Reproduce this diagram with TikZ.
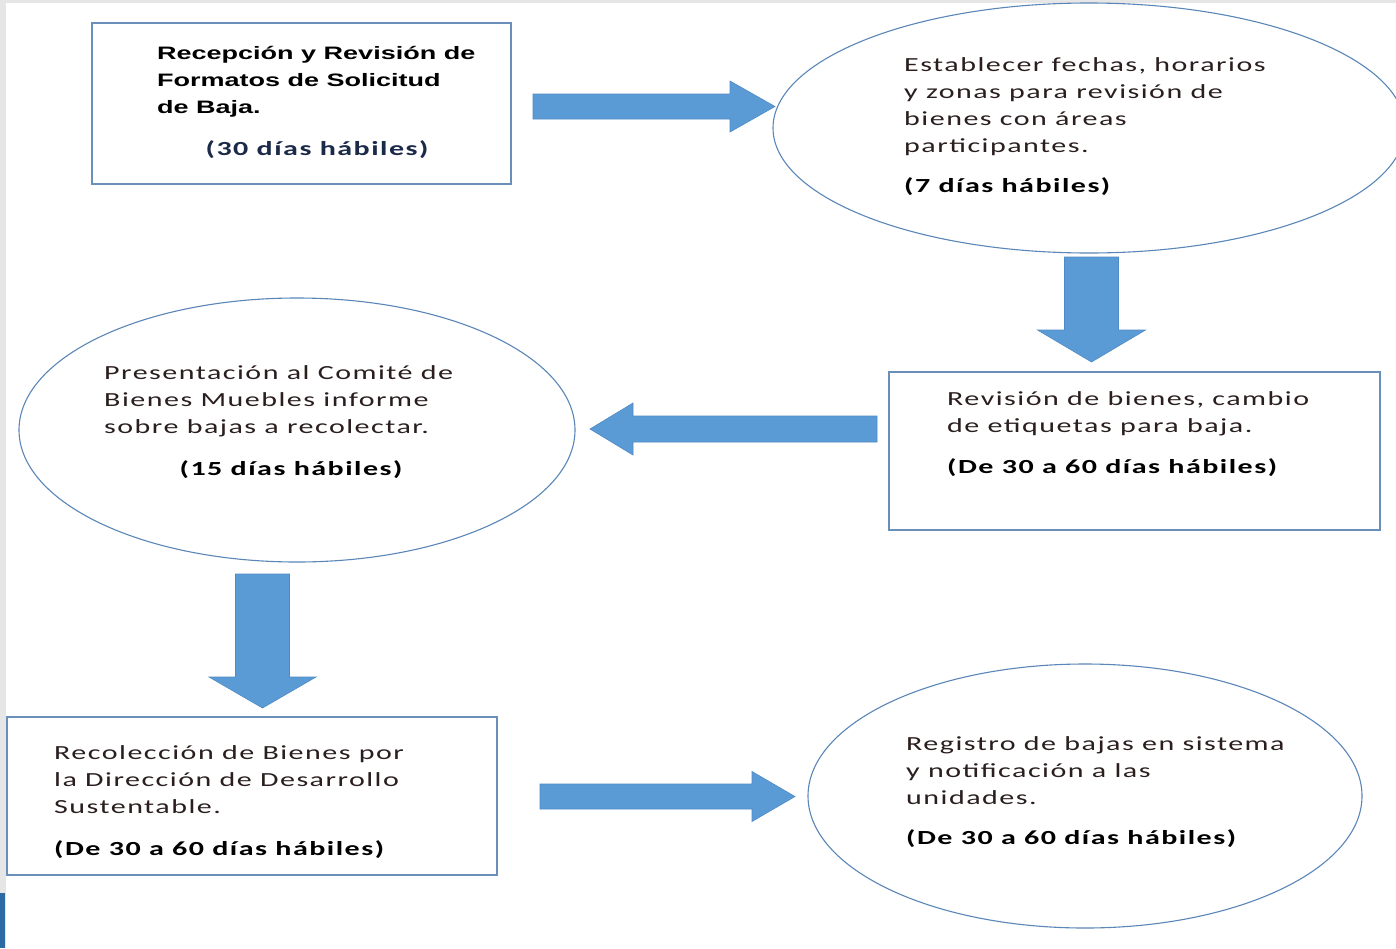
\documentclass[tikz,border=0pt]{standalone}
\usepackage{fontspec}
\usetikzlibrary{shapes.geometric,calc}
\newfontfamily\bodyfont[FakeStretch=1.5,LetterSpace=7.5]{Carlito}
\newfontfamily\titlefont[FakeStretch=1.5]{Liberation Sans}
\definecolor{boxline}{HTML}{6A8FB8}
\definecolor{ellline}{HTML}{5A86B8}
\definecolor{arrfill}{HTML}{5B9BD5}
\definecolor{arrline}{HTML}{4F8AC4}
\definecolor{txtcol}{HTML}{2A1E1E}
\definecolor{navy}{HTML}{1C2A4A}
\definecolor{edgegray}{HTML}{E6E6E6}
\definecolor{edgeblue}{HTML}{2B6AA3}
\tikzset{
  boxst/.style={draw=boxline, line width=1.3pt, rectangle, inner sep=0pt},
  ellst/.style={draw=ellline, line width=1.1pt, ellipse, inner sep=0pt},
  txt/.style={inner sep=0pt, anchor=north west, align=left, text=txtcol,
    font=\bodyfont\fontsize{20}{27}\selectfont},
  ttl/.style={inner sep=0pt, anchor=north west, align=left, text=black,
    font=\titlefont\bfseries\fontsize{18}{27}\selectfont},
  days/.style={inner sep=0pt, text=black,
    font=\bodyfont\bfseries\fontsize{20}{27}\selectfont},
  barrow/.style={fill=arrfill, draw=arrline, line width=0.6pt, line join=miter}
}
% block arrow: start, end, shaft half width, head half width, head length
\newcommand\blockarr[5]{%
  \coordinate (#1#2b) at ($(#2)!#5!(#1)$);
  \filldraw[barrow] ($(#1)!#3!90:(#2)$) -- ($(#1#2b)!#3!-90:(#1)$)
    -- ($(#1#2b)!#4!-90:(#1)$) -- (#2) -- ($(#1#2b)!#4!90:(#1)$)
    -- ($(#1#2b)!#3!90:(#1)$) -- ($(#1)!#3!-90:(#2)$) -- cycle;}
\begin{document}
\begin{tikzpicture}[x=1pt,y=-1pt]
\useasboundingbox (0,0) rectangle (1396,948);
\fill[white] (0,0) rectangle (1396,948);
\fill[edgegray] (0,0) rectangle (1396,3);
\fill[edgegray] (0,0) rectangle (6,948);
\fill[edgeblue] (0,893) rectangle (5,948);

% shapes
\node[boxst, minimum width=419pt, minimum height=161pt] (b1) at (301.5,103.5) {};
\node[ellst, minimum width=632pt, minimum height=250pt] (e1) at (1089,128) {};
\node[boxst, minimum width=491pt, minimum height=158pt] (b2) at (1134.5,451) {};
\node[ellst, minimum width=556pt, minimum height=264pt] (e2) at (297,430) {};
\node[boxst, minimum width=490pt, minimum height=158pt] (b3) at (252,796) {};
\node[ellst, minimum width=554pt, minimum height=264pt] (e3) at (1085,796) {};

% texts
\node[ttl] (t1) at (157,40) {\strut Recepción y Revisión de\\Formatos de Solicitud\\de Baja.};
\node[days, text=navy, anchor=base] (d1) at (317,155) {(30 días hábiles)};

\node[txt] (t2) at (904,52) {\strut Establecer fechas, horarios\\y zonas para revisión de\\bienes con áreas\\participantes.};
\node[days, anchor=base west] (d2) at (904,192) {(7 días hábiles)};

\node[txt] (t3) at (947,386) {\strut Revisión de bienes, cambio\\de etiquetas para baja.};
\node[days, anchor=base west] (d3) at (947,473) {(De 30 a 60 días hábiles)};

\node[txt] (t4) at (104,360) {\strut Presentación al Comité de\\Bienes Muebles informe\\sobre bajas a recolectar.};
\node[days, anchor=base] (d4) at (291,475) {(15 días hábiles)};

\node[txt] (t5) at (54,740) {\strut Recolección de Bienes por\\la Dirección de Desarrollo\\Sustentable.};
\node[days, anchor=base west] (d5) at (54,855) {(De 30 a 60 días hábiles)};

\node[txt] (t6) at (906,731) {\strut Registro de bajas en sistema\\y notificación a las\\unidades.};
\node[days, anchor=base west] (d6) at (906,844) {(De 30 a 60 días hábiles)};

% block arrows
\coordinate (a1s) at (533,106.5);
\coordinate (a1e) at (775,106.5);
\blockarr{a1s}{a1e}{12.5pt}{25.5pt}{45pt}
\coordinate (a2s) at (1091.5,257);
\coordinate (a2e) at (1091.5,362);
\blockarr{a2s}{a2e}{27pt}{54pt}{32pt}
\coordinate (a3s) at (877,429);
\coordinate (a3e) at (590,429);
\blockarr{a3s}{a3e}{13pt}{26pt}{43pt}
\coordinate (a4s) at (262.5,574);
\coordinate (a4e) at (262.5,708);
\blockarr{a4s}{a4e}{27pt}{53.5pt}{31pt}
\coordinate (a5s) at (540,796.5);
\coordinate (a5e) at (795,796.5);
\blockarr{a5s}{a5e}{12.5pt}{25pt}{43pt}
\end{tikzpicture}
\end{document}
